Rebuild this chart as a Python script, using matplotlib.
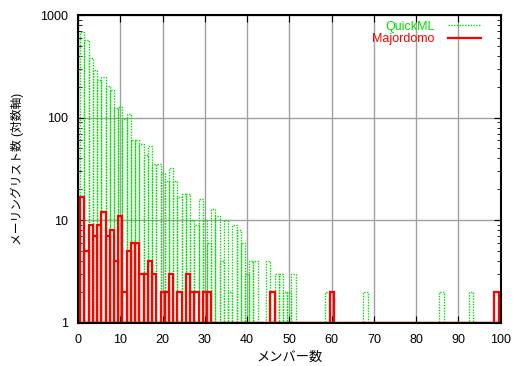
import numpy as np
import matplotlib
matplotlib.use("Agg")
import matplotlib.pyplot as plt
from matplotlib.lines import Line2D
from matplotlib.ticker import LogLocator, NullFormatter, FixedLocator

plt.rcParams['font.family'] = ['Liberation Sans', 'Noto Sans CJK JP', 'DejaVu Sans']

# QuickML: number of lists per member count
quickml_members = list(range(1, 52)) + [59, 68, 86, 93]
quickml_lists = [688, 566, 384, 293, 231, 249, 202, 187, 123, 127,
                 96, 108, 61, 61, 55, 43, 53, 35, 35, 29,
                 24, 32, 24, 17, 18, 18, 10, 9, 16, 10,
                 6, 13, 11, 4, 10, 2, 9, 8, 6, 3,
                 4, 4, 0, 0, 4, 2, 3, 3, 2, 2,
                 3] + [2, 2, 2, 2]

# Majordomo
major_members = list(range(1, 32)) + [46, 60, 99]
major_lists = [17, 5, 9, 7, 9, 12, 7, 8, 4, 11,
               2, 5, 6, 6, 3, 3, 4, 3, 0, 2,
               2, 3, 0, 2, 0, 3, 2, 2, 0, 2,
               2] + [2, 2, 2]

xticks = list(range(0, 101, 10))
yticks = [1, 10, 100, 1000]

green = '#00dd00'
red = '#ff0000'

fig = plt.figure(figsize=(5.14, 3.66), dpi=100)
ax = fig.add_axes([0.152, 0.118, 0.822, 0.841])
ax.set_yscale('log')
ax.set_xlim(0, 100)
ax.set_ylim(1, 1000)

ax.grid(True, which='major', color='#a0a0a0', lw=1.0, zorder=0)

qx = np.array(quickml_members)
qy = np.array(quickml_lists, dtype=float)
m = qy > 0
ax.bar(qx[m], qy[m] - 1, bottom=1, width=1, fill=False,
       edgecolor=green, linestyle=(0, (1, 1)), lw=1.0, zorder=2)

mx = np.array(major_members)
my = np.array(major_lists, dtype=float)
m = my > 0
ax.bar(mx[m], my[m] - 1, bottom=1, width=1, fill=False,
       edgecolor=red, lw=1.6, zorder=3)
ax.axhline(1, color=red, lw=2.5, zorder=4)

ax.xaxis.set_major_locator(FixedLocator(xticks))
ax.yaxis.set_major_locator(FixedLocator(yticks))
ax.set_yticklabels([str(v) for v in yticks])
ax.yaxis.set_minor_locator(LogLocator(base=10, subs=np.arange(2, 10)))
ax.yaxis.set_minor_formatter(NullFormatter())
ax.tick_params(which='both', direction='in', top=True, right=True,
               labelsize=9, color='black')
ax.tick_params(which='major', length=5, width=0.8)
ax.tick_params(which='minor', length=3, width=0.6)
ax.tick_params(axis='x', pad=8)
ax.tick_params(axis='y', pad=7)
for s in ax.spines.values():
    s.set_linewidth(1.5)
    s.set_zorder(5)

ax.set_xlabel('メンバー数', fontsize=9.5, labelpad=4)
ax.set_ylabel('メーリングリスト数 (対数軸)', fontsize=8.5, labelpad=12)

handles = [Line2D([], [], color=green, lw=1.0, linestyle=(0, (1, 1))),
           Line2D([], [], color=red, lw=1.6)]
leg = ax.legend(handles, ['QuickML', 'Majordomo'], loc='upper right',
                frameon=False, markerfirst=False, fontsize=9,
                handlelength=2.6, handletextpad=1.1, labelspacing=0.05,
                borderaxespad=0.0, bbox_to_anchor=(0.965, 0.998))
for t, c in zip(leg.get_texts(), [green, red]):
    t.set_color(c)

fig.savefig('out.png', dpi=100)
